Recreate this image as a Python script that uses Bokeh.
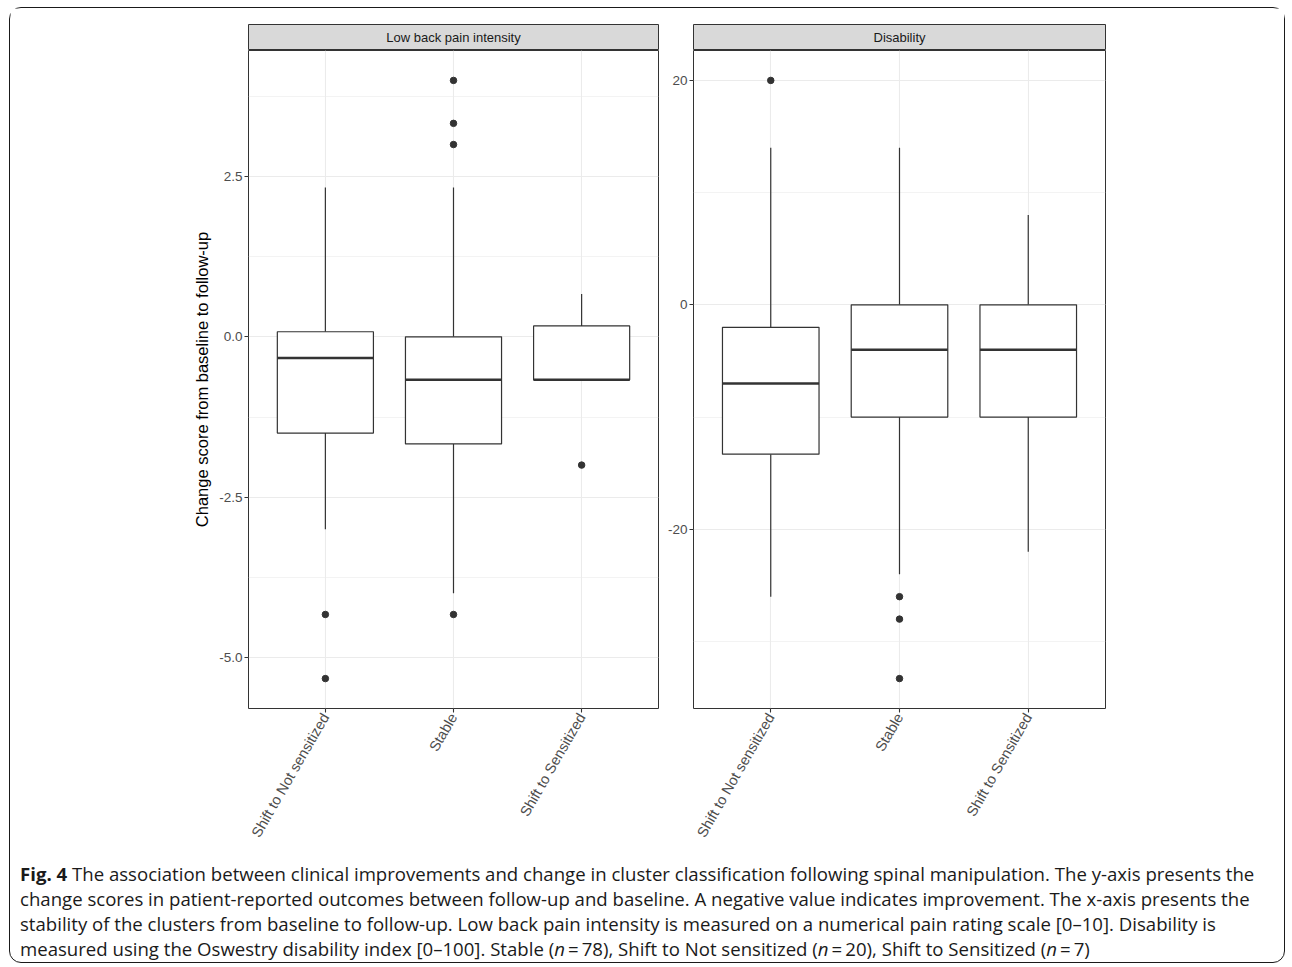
import math
from bokeh.plotting import figure
from bokeh.models import ColumnDataSource, Range1d, FactorRange, FixedTicker, Label, Div, PrintfTickFormatter
from bokeh.layouts import column, row
from bokeh.transform import dodge
from bokeh.embed import file_html
from bokeh.resources import INLINE

# ---------------- data ----------------
groups = ["Shift to Not sensitized", "Stable", "Shift to Sensitized"]
panel_titles = ["Low back pain intensity", "Disability"]
y_label = "Change score from baseline to follow-up"

pain_lower = [-3.0, -4.0, -0.67]
pain_q1 = [-1.5, -1.67, -0.67]
pain_median = [-0.33, -0.67, -0.67]
pain_q3 = [0.08, 0.0, 0.17]
pain_upper = [2.33, 2.33, 0.67]
pain_outlier_group = ["Shift to Not sensitized", "Shift to Not sensitized",
                      "Stable", "Stable", "Stable", "Stable", "Shift to Sensitized"]
pain_outlier_value = [-4.33, -5.33, 4.0, 3.33, 3.0, -4.33, -2.0]

dis_lower = [-26, -24, -22]
dis_q1 = [-13.3, -10, -10]
dis_median = [-7, -4, -4]
dis_q3 = [-2, 0, 0]
dis_upper = [14, 14, 8]
dis_outlier_group = ["Shift to Not sensitized", "Stable", "Stable", "Stable"]
dis_outlier_value = [20, -26, -28, -33.3]

pain_ticks = [-5.0, -2.5, 0.0, 2.5]
pain_minor_ticks = [-3.75, -1.25, 1.25, 3.75]
dis_ticks = [-20, 0, 20]
dis_minor_ticks = [-30, -10, 10]

caption_html = (
    "<b>Fig. 4</b> The association between clinical improvements and change in cluster classification "
    "following spinal manipulation. The y-axis presents the<br>"
    "change scores in patient-reported outcomes between follow-up and baseline. A negative value indicates "
    "improvement. The x-axis presents the<br>"
    "stability of the clusters from baseline to follow-up. Low back pain intensity is measured on a numerical "
    "pain rating scale [0&ndash;10]. Disability is<br>"
    "measured using the Oswestry disability index [0&ndash;100]. Stable (<i>n</i>&thinsp;=&thinsp;78), "
    "Shift to Not sensitized (<i>n</i>&thinsp;=&thinsp;20), Shift to Sensitized (<i>n</i>&thinsp;=&thinsp;7)"
)

FONT = "Liberation Sans"
DARK = "#333333"
GRID = "#EBEBEB"


def make_header(text, width, left, right):
    h = figure(width=width, height=42, x_range=Range1d(0, 1), y_range=Range1d(0, 1),
               output_backend="svg", toolbar_location=None,
               x_axis_location=None, y_axis_location=None,
               min_border_left=left, min_border_right=right,
               min_border_top=16, min_border_bottom=0)
    h.grid.visible = False
    h.background_fill_color = "#D9D9D9"
    h.border_fill_color = "white"
    h.outline_line_color = DARK
    h.outline_line_width = 1.0
    h.add_layout(Label(x=0.5, y=0.5, text=text, text_align="center", text_baseline="middle",
                       text_font=FONT, text_font_size="13px", text_color="#1A1A1A"))
    return h


def make_panel(lower, q1, med, q3, upper, og, ov, ticks, minor, fmt, width, left, right, ylabel=None):
    vals = list(lower) + list(upper) + list(ov)
    lo, hi = min(vals), max(vals)
    pad = 0.05 * (hi - lo)
    xr = FactorRange(factors=groups, range_padding=0.1, range_padding_units="absolute")
    p = figure(width=width, height=806, x_range=xr, y_range=Range1d(lo - pad, hi + pad),
               output_backend="svg", toolbar_location=None,
               min_border_left=left, min_border_right=right,
               min_border_top=0, min_border_bottom=148)
    p.background_fill_color = "white"
    p.border_fill_color = "white"
    p.outline_line_color = DARK
    p.outline_line_width = 1.0

    p.yaxis.ticker = FixedTicker(ticks=ticks, minor_ticks=minor)
    p.yaxis.formatter = PrintfTickFormatter(format=fmt)
    p.xgrid.grid_line_color = GRID
    p.xgrid.grid_line_width = 1.1
    p.ygrid.grid_line_color = GRID
    p.ygrid.grid_line_width = 1.1
    p.ygrid.minor_grid_line_color = GRID
    p.ygrid.minor_grid_line_width = 0.6

    p.axis.axis_line_color = None
    p.axis.major_tick_line_color = DARK
    p.axis.major_tick_line_width = 1.1
    p.axis.major_tick_out = 4
    p.axis.major_tick_in = 0
    p.axis.minor_tick_line_color = None
    p.axis.major_label_standoff = 2
    p.axis.major_label_text_font = FONT
    p.axis.major_label_text_color = "#4D4D4D"
    p.axis.major_label_text_font_size = "13.5px"
    p.xaxis.major_label_orientation = math.pi / 3
    p.xaxis.major_label_text_font_size = "14.5px"
    if ylabel:
        p.yaxis.axis_label = ylabel
        p.yaxis.axis_label_text_font = FONT
        p.yaxis.axis_label_text_font_size = "16.5px"
        p.yaxis.axis_label_text_font_style = "normal"
        p.yaxis.axis_label_text_color = "black"
        p.yaxis.axis_label_standoff = 5

    src = ColumnDataSource(dict(g=groups, lower=lower, q1=q1, med=med, q3=q3, upper=upper))
    p.segment(x0="g", y0="q3", x1="g", y1="upper", source=src, line_color=DARK, line_width=1.2)
    p.segment(x0="g", y0="lower", x1="g", y1="q1", source=src, line_color=DARK, line_width=1.2)
    p.vbar(x="g", top="q3", bottom="q1", width=0.75, source=src,
           fill_color="white", line_color=DARK, line_width=1.2)
    p.segment(x0=dodge("g", -0.375, range=xr), y0="med", x1=dodge("g", 0.375, range=xr), y1="med",
              source=src, line_color=DARK, line_width=2.4)
    osrc = ColumnDataSource(dict(g=og, v=ov))
    p.scatter(x="g", y="v", source=osrc, size=6.5, fill_color=DARK, line_color=DARK)
    return p


h1 = make_header(panel_titles[0], 650, 238, 2)
p1 = make_panel(pain_lower, pain_q1, pain_median, pain_q3, pain_upper,
                pain_outlier_group, pain_outlier_value, pain_ticks, pain_minor_ticks, "%.1f",
                650, 238, 2, ylabel=y_label)
h2 = make_header(panel_titles[1], 624, 33, 179)
p2 = make_panel(dis_lower, dis_q1, dis_median, dis_q3, dis_upper,
                dis_outlier_group, dis_outlier_value, dis_ticks, dis_minor_ticks, "%d",
                624, 33, 179)

caption = Div(text=caption_html, width=1273, height=104,
              styles={"font-family": "'Open Sans', sans-serif", "font-size": "18.6px",
                      "line-height": "25px", "color": "#1a1a1a", "padding-left": "5px",
                      "padding-top": "0px", "white-space": "nowrap"})

top = row(column(h1, p1), column(h2, p2))
layout = column(top, caption, margin=(7, 0, 0, 9), width=1276, height=956, sizing_mode="fixed",
                styles={"border": "1.5px solid #1a1a1a", "border-radius": "12px",
                        "background-color": "white"})

with open("out.html", "w") as f:
    f.write(file_html(layout, INLINE))
